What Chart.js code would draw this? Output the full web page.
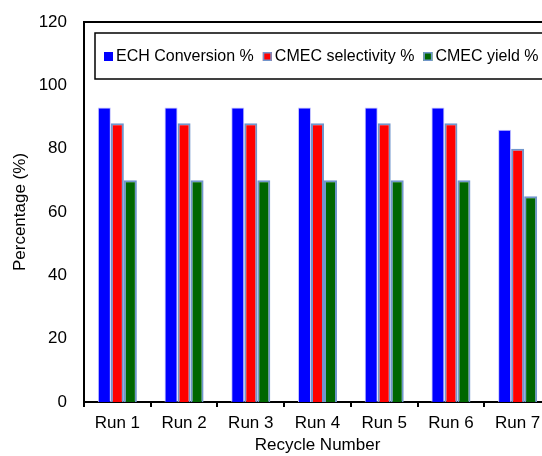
<!DOCTYPE html>
<html>
<head>
<meta charset="utf-8">
<script src="https://cdn.jsdelivr.net/npm/chart.js@4/dist/chart.umd.min.js"></script>
<style>
  html, body { margin: 0; padding: 0; background: #fff; overflow: hidden; }
  #wrap { width: 542px; height: 456px; overflow: hidden; }
</style>
</head>
<body>
<div id="wrap"><canvas id="chart" width="552" height="456"></canvas></div>
<script>
const categories = ['Run 1', 'Run 2', 'Run 3', 'Run 4', 'Run 5', 'Run 6', 'Run 7'];
const echConversion = [93, 93, 93, 93, 93, 93, 86];
const cmecSelectivity = [88, 88, 88, 88, 88, 88, 80];
const cmecYield = [70, 70, 70, 70, 70, 70, 65];
const yTicks = [0, 20, 40, 60, 80, 100, 120];

const FONT = "Arial, 'Liberation Sans', sans-serif";

// legend drawn inside the plot box, like the original
const boxLegend = {
    id: 'boxLegend',
    afterDraw(chart) {
        const ctx = chart.ctx;
        const area = chart.chartArea;
        ctx.save();
        // plot frame top line
        ctx.strokeStyle = '#000';
        ctx.lineWidth = 2;
        ctx.beginPath();
        ctx.moveTo(area.left - 1, area.top);
        ctx.lineTo(area.right + 1, area.top);
        ctx.moveTo(area.right, area.top);
        ctx.lineTo(area.right, area.bottom);
        ctx.stroke();

        const bx = 95, by = 33, bh = 46;
        ctx.fillStyle = '#fff';
        ctx.fillRect(bx, by, 600, bh);
        ctx.lineWidth = 1.5;
        ctx.strokeRect(bx, by, 600, bh);

        ctx.font = '16px ' + FONT;
        ctx.textBaseline = 'middle';
        let x = bx + 9;
        const cy = by + bh / 2 + 0.5;
        chart.data.datasets.forEach(ds => {
            ctx.fillStyle = ds.backgroundColor;
            ctx.fillRect(x, cy - 4.5, 9, 9);
            if (ds.legendBorder) {
                ctx.strokeStyle = ds.legendBorder;
                ctx.lineWidth = 1.5;
                ctx.strokeRect(x + 0.75, cy - 3.75, 7.5, 7.5);
            }
            x += 12;
            ctx.fillStyle = '#000';
            ctx.fillText(ds.label, x, cy);
            x += ctx.measureText(ds.label).width + 9;
        });
        ctx.restore();
    }
};

new Chart(document.getElementById('chart'), {
    type: 'bar',
    data: {
        labels: categories,
        datasets: [
            {
                label: 'ECH Conversion %',
                data: echConversion,
                backgroundColor: '#0000ff',
                borderColor: '#c4c4ff',
                borderWidth: 1
            },
            {
                label: 'CMEC selectivity %',
                data: cmecSelectivity,
                backgroundColor: '#ff0000',
                borderColor: '#7196cc',
                borderWidth: 2,
                legendBorder: '#7196cc'
            },
            {
                label: 'CMEC yield %',
                data: cmecYield,
                backgroundColor: '#006600',
                borderColor: '#7196cc',
                borderWidth: 2,
                legendBorder: '#7196cc'
            }
        ]
    },
    options: {
        responsive: false,
        animation: false,
        devicePixelRatio: 1,
        layout: { padding: { top: 22, right: 1, left: 0, bottom: 0 } },
        categoryPercentage: 0.585,
        barPercentage: 1,
        plugins: {
            legend: { display: false },
            tooltip: { enabled: false }
        },
        scales: {
            x: {
                afterFit: s => { s.height = 54; },
                grid: {
                    display: true,
                    drawOnChartArea: false,
                    drawTicks: true,
                    tickLength: 5,
                    color: '#000',
                    lineWidth: 2
                },
                border: { display: true, color: '#000', width: 2 },
                ticks: {
                    color: '#000',
                    font: { family: FONT, size: 17 },
                    padding: 6,
                    maxRotation: 0
                },
                title: {
                    display: true,
                    text: 'Recycle Number',
                    color: '#000',
                    font: { family: FONT, size: 17 },
                    padding: { top: 0, bottom: 0 }
                }
            },
            y: {
                min: 0,
                max: 120,
                afterFit: s => {
                    s.width = 84;
                    s.paddingTop = 0;
                    s.paddingBottom = 0;
                },
                afterBuildTicks: s => { s.ticks = yTicks.map(v => ({ value: v })); },
                grid: { display: false, drawTicks: false },
                border: { display: true, color: '#000', width: 2 },
                ticks: {
                    color: '#000',
                    font: { family: FONT, size: 17 },
                    padding: 17
                },
                title: {
                    display: true,
                    text: 'Percentage (%)',
                    color: '#000',
                    font: { family: FONT, size: 17 },
                    padding: { top: 10, bottom: 0 }
                }
            }
        }
    },
    plugins: [boxLegend]
});
</script>
</body>
</html>
